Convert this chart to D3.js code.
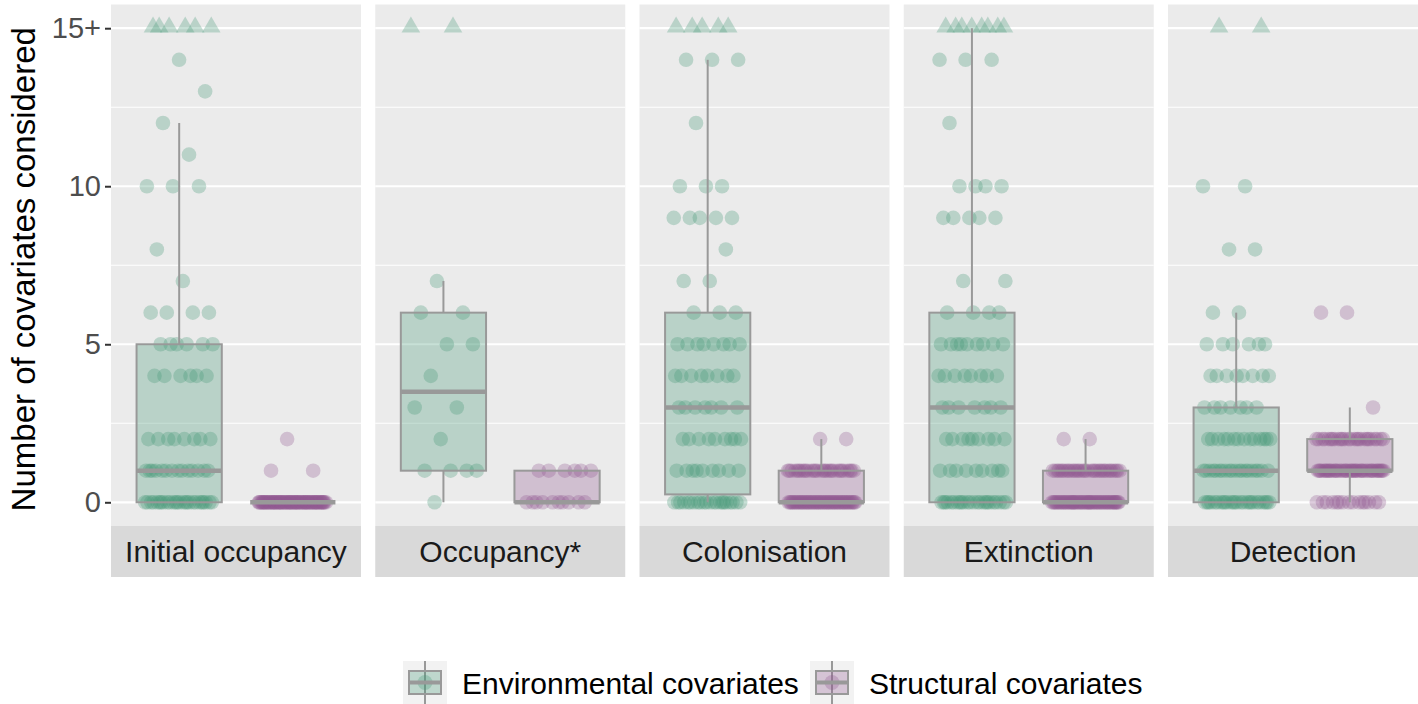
<!DOCTYPE html>
<html>
<head>
<meta charset="utf-8">
<script src="https://cdn.jsdelivr.net/npm/d3@7"></script>
<style>
body { margin: 0; background: #fff; }
text { font-family: "Liberation Sans", Arial, sans-serif; }
</style>
</head>
<body>
<div id="chart"></div>
<script>
// facets and groups
var panels = ["Initial occupancy", "Occupancy*", "Colonisation", "Extinction", "Detection"];
var groups = ["Environmental covariates", "Structural covariates"];

// number of covariates, 15 stands for "15+"
var valueLevels = [0, 1, 2, 3, 4, 5, 6, 7, 8, 9, 10, 11, 12, 13, 14, 15];
var tickValues = [0, 5, 10, 15];
var tickLabels = ["0", "5", "10", "15+"];

// how many studies at each value (index = valueLevels), one row per panel
var envCounts = [
	[26, 14, 8, 0, 6, 6, 4, 1, 1, 0, 3, 1, 1, 1, 1, 6],
	[1, 4, 1, 2, 1, 2, 2, 1, 0, 0, 0, 0, 0, 0, 0, 2],
	[22, 9, 9, 7, 8, 8, 3, 2, 1, 5, 3, 0, 1, 0, 3, 5],
	[24, 9, 9, 7, 8, 9, 4, 2, 0, 5, 4, 0, 1, 0, 3, 8],
	[26, 20, 14, 7, 8, 6, 2, 0, 2, 0, 2, 0, 0, 0, 0, 2]
];
var strCounts = [
	[76, 2, 1, 0, 0, 0, 0, 0, 0, 0, 0, 0, 0, 0, 0, 0],
	[10, 6, 0, 0, 0, 0, 0, 0, 0, 0, 0, 0, 0, 0, 0, 0],
	[55, 29, 2, 0, 0, 0, 0, 0, 0, 0, 0, 0, 0, 0, 0, 0],
	[58, 33, 2, 0, 0, 0, 0, 0, 0, 0, 0, 0, 0, 0, 0, 0],
	[15, 45, 26, 1, 0, 0, 2, 0, 0, 0, 0, 0, 0, 0, 0, 0]
];

var colors = ["#449876", "#915891"];

var width = 1418, height = 704;
var panelTop = 4.5, panelBottom = 526, stripH = 51;

var svg = d3.select("#chart").append("svg")
	.attr("width", width)
	.attr("height", height);

var xPanel = d3.scaleBand()
	.domain(panels)
	.range([111, 1418])
	.paddingInner(0.054);

var pw = xPanel.bandwidth();

var xGroup = d3.scalePoint()
	.domain(groups)
	.range([0, pw])
	.padding(0.6);

var unit = xGroup.step();

var y = d3.scaleLinear()
	.domain([-0.75, 15.75])
	.range([panelBottom, panelTop]);

function expand(counts) {
	var out = [];
	counts.forEach((c, i) => {
		for (var k = 0; k < c; k++) out.push(valueLevels[i]);
	});
	return out;
}

function boxStats(vals) {
	var s = vals.slice().sort(d3.ascending);
	var q1 = d3.quantile(s, 0.25), med = d3.quantile(s, 0.5), q3 = d3.quantile(s, 0.75);
	var iqr = q3 - q1;
	var hi = d3.max(s.filter(v => v <= q3 + 1.5 * iqr));
	var lo = d3.min(s.filter(v => v >= q1 - 1.5 * iqr));
	return {q1: q1, med: med, q3: q3, hi: hi, lo: lo};
}

var triangle = d3.symbol().type(d3.symbolTriangle).size(150);

panels.forEach((p, pi) => {
	var g = svg.append("g").attr("transform", `translate(${xPanel(p)},0)`);

	g.append("rect")
		.attr("x", 0).attr("y", panelTop)
		.attr("width", pw).attr("height", panelBottom - panelTop)
		.attr("fill", "#ebebeb");

	// minor grid
	g.selectAll(".minor").data([2.5, 7.5, 12.5]).enter()
		.append("line")
		.attr("x1", 0).attr("x2", pw)
		.attr("y1", d => y(d)).attr("y2", d => y(d))
		.attr("stroke", "#fff").attr("stroke-width", 1.1);

	g.selectAll(".major").data(tickValues).enter()
		.append("line")
		.attr("x1", 0).attr("x2", pw)
		.attr("y1", d => y(d)).attr("y2", d => y(d))
		.attr("stroke", "#fff").attr("stroke-width", 2.2);

	var sets = [expand(envCounts[pi]), expand(strCounts[pi])];

	// jittered points
	sets.forEach((vals, gi) => {
		var cx = xGroup(groups[gi]);
		var pts = vals.map((v, k) => ({
			v: v,
			x: cx + (((k * 0.618034 + pi * 0.37 + gi * 0.21) % 1) - 0.5) * 2 * 0.3 * unit
		}));
		g.selectAll(null).data(pts.filter(d => d.v < 15)).enter()
			.append("circle")
			.attr("cx", d => d.x)
			.attr("cy", d => y(d.v))
			.attr("r", 7.3)
			.attr("fill", colors[gi])
			.attr("fill-opacity", 0.3);
		g.selectAll(null).data(pts.filter(d => d.v >= 15)).enter()
			.append("path")
			.attr("d", triangle)
			.attr("transform", d => `translate(${d.x},${y(15) - 1})`)
			.attr("fill", colors[gi])
			.attr("fill-opacity", 0.3);
	});

	// boxplots
	sets.forEach((vals, gi) => {
		var st = boxStats(vals);
		var cx = xGroup(groups[gi]);
		var bw = 0.75 * unit;
		var bg = g.append("g");
		if (st.hi > st.q3) {
			bg.append("line")
				.attr("x1", cx).attr("x2", cx)
				.attr("y1", y(st.q3)).attr("y2", y(st.hi))
				.attr("stroke", "#999").attr("stroke-width", 2);
		}
		if (st.lo < st.q1) {
			bg.append("line")
				.attr("x1", cx).attr("x2", cx)
				.attr("y1", y(st.q1)).attr("y2", y(st.lo))
				.attr("stroke", "#999").attr("stroke-width", 2);
		}
		bg.append("rect")
			.attr("x", cx - bw / 2)
			.attr("y", y(st.q3))
			.attr("width", bw)
			.attr("height", Math.max(0, y(st.q1) - y(st.q3)))
			.attr("fill", colors[gi]).attr("fill-opacity", 0.3)
			.attr("stroke", "#999").attr("stroke-width", 2);
		bg.append("line")
			.attr("x1", cx - bw / 2).attr("x2", cx + bw / 2)
			.attr("y1", y(st.med)).attr("y2", y(st.med))
			.attr("stroke", "#999").attr("stroke-width", 4.5);
	});

	// strip
	g.append("rect")
		.attr("x", 0).attr("y", panelBottom)
		.attr("width", pw).attr("height", stripH)
		.attr("fill", "#d9d9d9");
	g.append("text")
		.attr("x", pw / 2).attr("y", panelBottom + stripH / 2)
		.attr("dy", "0.35em")
		.attr("text-anchor", "middle")
		.attr("font-size", 30)
		.attr("fill", "#1a1a1a")
		.text(p);
});

// y axis
var yAxis = d3.axisLeft(y)
	.tickValues(tickValues)
	.tickFormat((d, i) => tickLabels[i])
	.tickSize(6)
	.tickPadding(4);

var ax = svg.append("g")
	.attr("transform", "translate(111,0)")
	.call(yAxis);
ax.select(".domain").remove();
ax.selectAll(".tick line").attr("stroke", "#333").attr("stroke-width", 2);
ax.selectAll(".tick text")
	.attr("font-size", 29)
	.attr("font-family", "Liberation Sans, Arial, sans-serif")
	.attr("fill", "#4d4d4d");

svg.append("text")
	.attr("transform", `translate(35,${(panelTop + panelBottom) / 2 + 4}) rotate(-90)`)
	.attr("text-anchor", "middle")
	.attr("font-size", 33)
	.attr("fill", "#000")
	.text("Number of covariates considered");

// legend
var legendX = [403, 810];
groups.forEach((gname, gi) => {
	var lg = svg.append("g").attr("transform", `translate(${legendX[gi]},661)`);
	lg.append("rect").attr("width", 44).attr("height", 44).attr("fill", "#f2f2f2");
	lg.append("line").attr("x1", 22).attr("x2", 22).attr("y1", 0).attr("y2", 44)
		.attr("stroke", "#999").attr("stroke-width", 2);
	lg.append("rect").attr("x", 6).attr("y", 10).attr("width", 32).attr("height", 23)
		.attr("fill", colors[gi]).attr("fill-opacity", 0.3)
		.attr("stroke", "#999").attr("stroke-width", 2);
	lg.append("circle").attr("cx", 22).attr("cy", 21.5).attr("r", 7.5)
		.attr("fill", colors[gi]).attr("fill-opacity", 0.3);
	lg.append("line").attr("x1", 6).attr("x2", 38).attr("y1", 21.5).attr("y2", 21.5)
		.attr("stroke", "#999").attr("stroke-width", 4);
	lg.append("text")
		.attr("x", 59).attr("y", 22).attr("dy", "0.35em")
		.attr("font-size", 30)
		.attr("fill", "#000")
		.text(gname);
});
</script>
</body>
</html>
